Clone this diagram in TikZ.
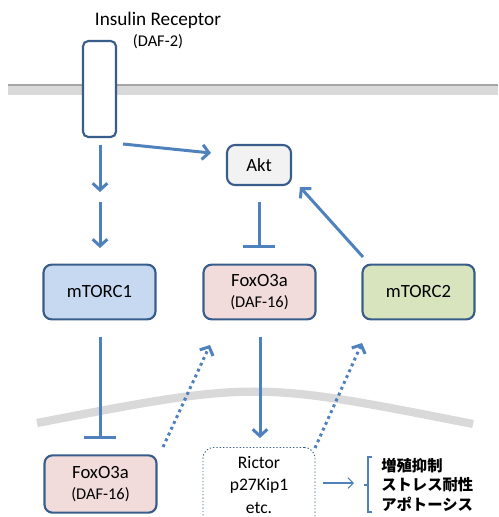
\documentclass[tikz,border=0pt]{standalone}
\usepackage{fontspec}
\setmainfont{Carlito}
\newfontfamily\jpfont{Noto Sans CJK JP}
\usetikzlibrary{arrows.meta}
\definecolor{arr}{HTML}{4F81BD}
\definecolor{bord}{HTML}{385D8A}
\definecolor{memb}{HTML}{D9D9D9}
\definecolor{membedge}{HTML}{A6A6A6}
\definecolor{aktfill}{HTML}{F2F2F2}
\definecolor{foxfill}{HTML}{F2DCDB}
\definecolor{mtafill}{HTML}{C6D9F1}
\definecolor{mtbfill}{HTML}{D7E4BD}
\newcommand{\mainf}{\fontsize{14}{16.5}\selectfont}
\newcommand{\smallf}{\fontsize{12.3}{14}\selectfont}
\tikzset{
  box/.style={draw=bord, line width=1.6pt, rounded corners=6pt,
    minimum width=84pt, minimum height=41pt, font=\mainf, align=center, inner sep=0pt},
  act/.style={draw=arr, line width=2.25pt, -{Straight Barb[length=5pt,width=11pt]}},
  inh/.style={draw=arr, line width=2.25pt, -{Bar[width=24pt]}},
  dots/.style={draw=arr, line width=2.25pt, dash pattern=on 2.2pt off 2.6pt,
    -{Straight Barb[length=5pt,width=11pt]}},
  thin/.style={draw=arr, line width=0.8pt, -{Straight Barb[length=4pt,width=8pt]}},
}
\begin{document}
\begin{tikzpicture}[x=0.75pt,y=-0.75pt]
\useasboundingbox (0,0) rectangle (499,517);
% plasma membrane
\fill[memb] (8,85) rectangle (498,95);
\draw[membedge, line width=0.9pt] (8,85) -- (498,85);
% nuclear membrane
\draw[memb, line width=6.2pt] (37,423) .. controls (255,381) .. (473,424);

% receptor
\node[draw=bord, line width=1.6pt, rounded corners=4pt, fill=white,
  minimum width=24.75pt, minimum height=72pt] (ir) at (99.5,89) {};
\node[font=\fontsize{14.4}{16}\selectfont] (irt) at (158,20) {Insulin Receptor};
\node[font=\smallf] (irs) at (158,42) {(DAF-2)};

% nodes
\node[box, fill=aktfill, minimum width=48pt, minimum height=30pt] (akt) at (259,165) {Akt};
\node[box, fill=mtafill] (mt1) at (99.5,292) {mTORC1};
\node[box, fill=foxfill] (fox) at (259.5,292) {FoxO3a\\[-1pt]{\smallf (DAF-16)}};
\node[box, fill=mtbfill] (mt2) at (418.5,292) {mTORC2};
\node[box, fill=foxfill, minimum height=43pt] (foxb) at (100.5,484) {FoxO3a\\[-1pt]{\smallf (DAF-16)}};
\node[draw=bord, line width=0.7pt, dash pattern=on 1pt off 1.5pt, rounded corners=8pt,
  minimum width=84pt, minimum height=66pt, inner sep=0pt, anchor=north] (ric) at (259,447) {};
\node[align=center, inner sep=0pt, font=\fontsize{13.2}{17}\selectfont] (rict) at (259,485)
  {Rictor\\p27Kip1\\etc.};
\node[font=\jpfont\bfseries\fontsize{11.5}{14.6}\selectfont, align=left, anchor=west, inner sep=0pt]
  (eff) at (381,484.5) {増殖抑制\\ストレス耐性\\アポトーシス};

% coordinates for connector ends
\coordinate (irR) at (123,144);
\coordinate (aktL) at (211,153);
\coordinate (irB) at (100,145);
\coordinate (m1) at (100,192);
\coordinate (m2) at (100,202);
\coordinate (mt1T) at (100,248);
\coordinate (aktB) at (259,202);
\coordinate (foxT) at (259,248);
\coordinate (mt2s) at (363,257);
\coordinate (aktR) at (300,187);
\coordinate (mt1B) at (100,337);
\coordinate (foxbT) at (100,439);
\coordinate (foxB) at (260,337);
\coordinate (ricT) at (260,438);
\coordinate (d1s) at (163,447);
\coordinate (d1e) at (210,345);
\coordinate (d2s) at (315,448);
\coordinate (d2e) at (362,343);
\coordinate (thS) at (323,483);
\coordinate (thE) at (354,483);

% connectors
\draw[act] (irR) -- (aktL);
\draw[act] (irB) -- (m1);
\draw[act] (m2) -- (mt1T);
\draw[inh] (aktB) -- (foxT);
\draw[act] (mt2s) -- (aktR);
\draw[inh] (mt1B) -- (foxbT);
\draw[act] (foxB) -- (ricT);
\draw[dots] (d1s) -- (d1e);
\draw[dots] (d2s) -- (d2e);
\draw[thin] (thS) -- (thE);
% bracket
\draw[arr, line width=0.8pt] (372,457) -- (368,457) -- (368,512) -- (372,512);
\draw[arr, line width=0.8pt] (368,485) -- (364,485);
\end{tikzpicture}
\end{document}
